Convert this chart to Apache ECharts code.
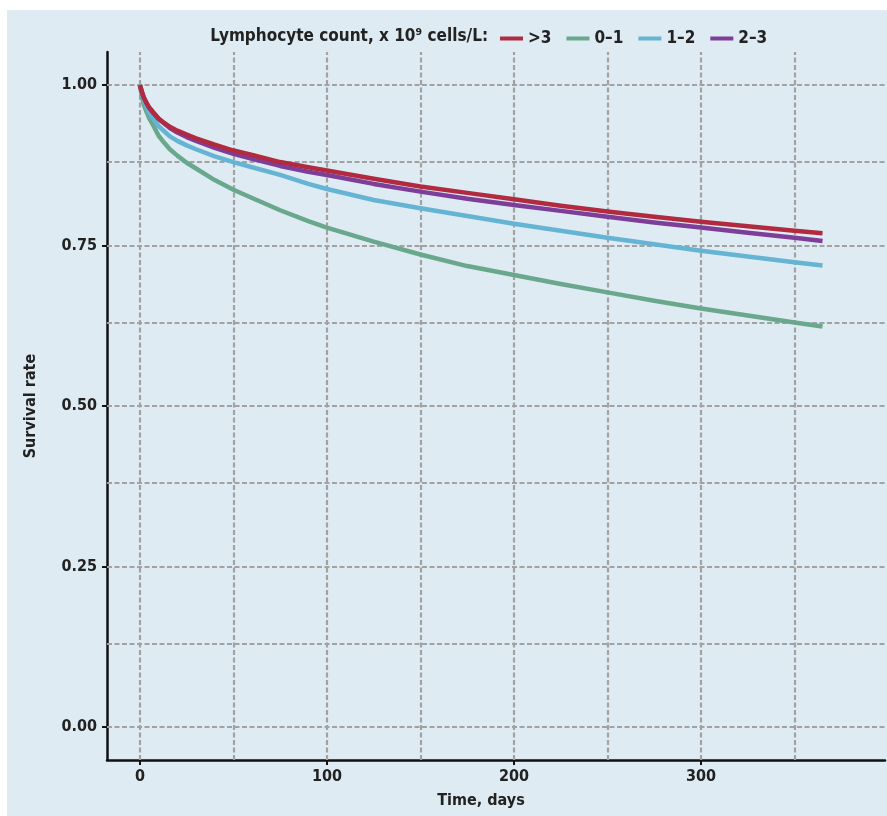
<!DOCTYPE html>
<html>
<head>
<meta charset="utf-8">
<script src="https://cdn.jsdelivr.net/npm/echarts@6/dist/echarts.min.js"></script>
<style>
html,body{margin:0;padding:0;background:#ffffff;}
#bg{position:absolute;left:7px;top:10px;width:880px;height:806px;background:#deebf2;}
#chart{position:absolute;left:0;top:0;width:887px;height:816px;}
</style>
</head>
<body>
<div id="bg"></div>
<div id="chart"></div>
<script>
// ---- data ----
const days = [0,1,2,3,4,5,7,10,13,16,20,25,30,40,50,60,75,90,100,125,150,175,200,225,250,275,300,325,350,365];
const seriesNames = ['>3','0\u20131','1\u20132','2\u20133'];
const survGt3  = [1,0.990,0.981,0.975,0.970,0.965,0.958,0.948,0.941,0.935,0.929,0.923,0.917,0.907,0.898,0.891,0.880,0.872,0.867,0.854,0.842,0.832,0.822,0.812,0.803,0.795,0.787,0.780,0.773,0.769];
const surv0to1 = [1,0.983,0.970,0.962,0.955,0.948,0.938,0.921,0.910,0.900,0.890,0.879,0.870,0.852,0.837,0.824,0.805,0.788,0.778,0.756,0.736,0.718,0.704,0.690,0.677,0.664,0.652,0.641,0.630,0.624];
const surv1to2 = [1,0.988,0.977,0.970,0.963,0.957,0.948,0.936,0.928,0.920,0.913,0.906,0.900,0.889,0.880,0.872,0.860,0.846,0.838,0.821,0.808,0.796,0.784,0.773,0.762,0.752,0.742,0.733,0.724,0.719];
const surv2to3 = [1,0.990,0.981,0.975,0.969,0.964,0.957,0.947,0.940,0.933,0.926,0.919,0.913,0.902,0.893,0.885,0.874,0.865,0.860,0.846,0.834,0.823,0.813,0.804,0.795,0.786,0.778,0.770,0.762,0.757];
const xTickLabels = [0,100,200,300];
const yTickLabels = [0,0.25,0.5,0.75,1];
const gridX = [0,50,100,150,200,250,300,350];
const gridY = [0,0.125,0.25,0.375,0.5,0.625,0.75,0.875,1];

const colors = {'>3':'#b12a3f','0\u20131':'#6aa88e','1\u20132':'#65b4d4','2\u20133':'#7c3e98'};
const FONT = "'DejaVu Sans Condensed','Liberation Sans Narrow','Roboto',sans-serif";

function pairs(vals){ return days.map((d,i)=>[d, vals[i]]); }

const chart = echarts.init(document.getElementById('chart'), null, {renderer:'canvas'});
const lineSeries = [
  {name:'0\u20131', data:pairs(surv0to1)},
  {name:'1\u20132', data:pairs(surv1to2)},
  {name:'2\u20133', data:pairs(surv2to3)},
  {name:'>3', data:pairs(survGt3)}
].map(s=>({
  type:'line', name:s.name, data:s.data, showSymbol:false, symbol:'none',
  smooth:false,
  lineStyle:{width:4.5, color:colors[s.name], cap:'butt', join:'round'}, itemStyle:{color:colors[s.name]},
  z:5
}));

const gridStyle = {color:'#a2a2a2', width:2.2, type:[5,2.5]};
const gridSeries = {
  type:'line', data:[], silent:true, z:1,
  markLine:{
    silent:true, symbol:'none', animation:false, label:{show:false},
    lineStyle:gridStyle,
    data: gridX.map(v=>({xAxis:v})).concat(gridY.map(v=>({yAxis:v})))
  }
};

chart.setOption({
  backgroundColor:'transparent',
  animation:false,
  textStyle:{fontFamily:FONT},
  grid:{left:107, right:2, top:52, bottom:56, containLabel:false},
  graphic:[{
    type:'text', x:488, y:37,
    style:{text:'Lymphocyte count, x 10\u2079 cells/L:', fill:'#222', font:"bold 17px "+FONT, textAlign:'right', textVerticalAlign:'middle'}
  }],
  legend:{
    left:495, top:25, icon:'rect', itemWidth:23, itemHeight:4, itemGap:15,
    data:seriesNames,
    textStyle:{color:'#222', fontWeight:'bold', fontSize:17, fontFamily:FONT}
  },
  xAxis:{
    type:'value', min:-17.6, max:398.4,
    name:'Time, days', nameLocation:'middle', nameGap:33,
    nameTextStyle:{color:'#222', fontWeight:'bold', fontSize:16, fontFamily:FONT, padding:[0,30,0,0]},
    axisLine:{show:true, onZero:false, lineStyle:{color:'#111', width:2.5}},
    axisTick:{show:true, length:5, lineStyle:{color:'#111', width:2}, customValues:xTickLabels},
    axisLabel:{color:'#222', fontWeight:'bold', fontSize:16, margin:9, customValues:xTickLabels, fontFamily:FONT},
    splitLine:{show:false}
  },
  yAxis:{
    type:'value', min:-0.0515, max:1.0515,
    name:'Survival rate', nameLocation:'middle', nameGap:68, nameRotate:90,
    nameTextStyle:{color:'#222', fontWeight:'bold', fontSize:16, fontFamily:FONT},
    axisLine:{show:true, onZero:false, lineStyle:{color:'#111', width:2.5}},
    axisTick:{show:true, length:5, lineStyle:{color:'#111', width:2}, customValues:yTickLabels},
    axisLabel:{color:'#222', fontWeight:'bold', fontSize:16, margin:10, customValues:yTickLabels, fontFamily:FONT,
      formatter:v=>Number(v).toFixed(2)},
    splitLine:{show:false}
  },
  series:[gridSeries].concat(lineSeries)
});
</script>
</body>
</html>
